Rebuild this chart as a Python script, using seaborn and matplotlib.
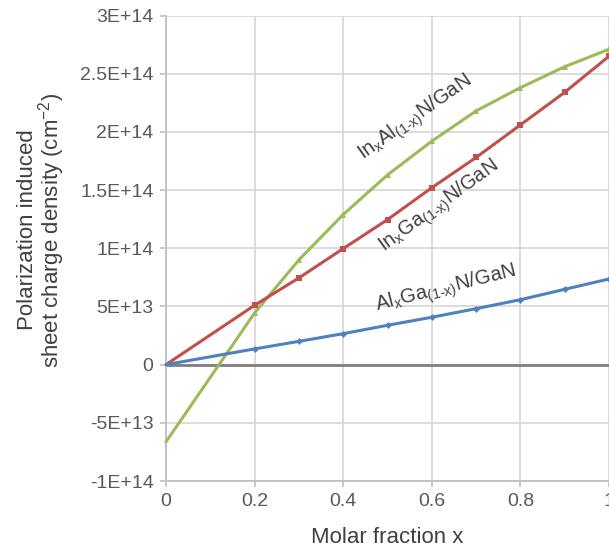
import numpy as np
import pandas as pd
import matplotlib
matplotlib.use("Agg")
import matplotlib.pyplot as plt
import seaborn as sns
from matplotlib.ticker import FixedLocator, FixedFormatter

# ---- data ----
x_frac = [0.0, 0.2, 0.3, 0.4, 0.5, 0.6, 0.7, 0.8, 0.9, 1.0]
inaln = [-6.63e13, 4.44e13, 9.0e13, 1.29e14, 1.63e14, 1.92e14, 2.18e14, 2.38e14, 2.56e14, 2.71e14]
ingan = [0.0, 5.1e13, 7.45e13, 9.97e13, 1.246e14, 1.52e14, 1.78e14, 2.06e14, 2.34e14, 2.65e14]
algan = [0.0, 1.35e13, 2.0e13, 2.66e13, 3.38e13, 4.07e13, 4.81e13, 5.58e13, 6.47e13, 7.36e13]

series_names = [r"In$_\mathregular{x}$Al$_\mathregular{(1\text{-}x)}$N/GaN",
                r"In$_\mathregular{x}$Ga$_\mathregular{(1\text{-}x)}$N/GaN",
                r"Al$_\mathregular{x}$Ga$_\mathregular{(1\text{-}x)}$N/GaN"]

y_ticks = [-1e14, -5e13, 0, 5e13, 1e14, 1.5e14, 2e14, 2.5e14, 3e14]
y_tick_labels = ["-1E+14", "-5E+13", "0", "5E+13", "1E+14", "1.5E+14", "2E+14", "2.5E+14", "3E+14"]
x_ticks = [0, 0.2, 0.4, 0.6, 0.8, 1.0]
x_tick_labels = ["0", "0.2", "0.4", "0.6", "0.8", "1"]

sns.set_theme(style="white")
plt.rcParams['font.family'] = ['Liberation Sans', 'DejaVu Sans']
plt.rcParams['mathtext.fontset'] = 'custom'
plt.rcParams['mathtext.rm'] = 'Liberation Sans'
plt.rcParams['mathtext.it'] = 'Liberation Sans:italic'

fig = plt.figure(figsize=(6.09, 5.47), dpi=100)
ax = fig.add_axes([166/609, 1-481/547, 1-166/609, (481-15.5)/547])

grid_c = "#D9D9D9"
ax.set_xlim(0, 1)
ax.set_ylim(-1e14, 3e14)
ax.xaxis.set_major_locator(FixedLocator(x_ticks))
ax.xaxis.set_major_formatter(FixedFormatter(x_tick_labels))
ax.yaxis.set_major_locator(FixedLocator(y_ticks))
ax.yaxis.set_major_formatter(FixedFormatter(y_tick_labels))
ax.grid(True, color=grid_c, lw=1.3)
ax.set_axisbelow(True)
for s in ["top", "right"]:
    ax.spines[s].set_visible(False)
for s in ["left", "bottom"]:
    ax.spines[s].set_color("#BFBFBF")
    ax.spines[s].set_linewidth(1.3)
ax.tick_params(axis="both", colors="#BFBFBF", labelcolor="#595959", labelsize=14,
               length=4, width=1.2, direction="out", left=True, bottom=True)
ax.tick_params(axis="x", pad=5)
ax.tick_params(axis="y", pad=5)

ax.axhline(0, color="#7F7F7F", lw=2, zorder=1.5)

df = pd.DataFrame({"x": x_frac, "InAlN": inaln, "InGaN": ingan, "AlGaN": algan})
styles = [("InAlN", "#9BBB59", "^", 5), ("InGaN", "#C0504D", "s", 5), ("AlGaN", "#4F81BD", "D", 3.5)]
for col, c, m, ms in styles:
    sns.lineplot(data=df, x="x", y=col, color=c, lw=2.2, marker=m, markersize=ms,
                 markeredgewidth=0, markevery=slice(1, None), ax=ax, zorder=3, clip_on=False)

ax.set_xlabel("Molar fraction x", fontsize=16, color="#404040", labelpad=12)
ax.set_ylabel("")
fig.text(42/609, 1-230/547, "Polarization induced\nsheet charge density (cm$^{-2}$)",
         rotation=90, ha="center", va="center", fontsize=16, color="#404040",
         multialignment="center", linespacing=0.95)

lab_kw = dict(ha="center", va="center", fontsize=14.5, color="#404040",
              rotation_mode="anchor")
ax.text(0.564, 2.116e14, series_names[0], rotation=35, **lab_kw)
ax.text(0.616, 1.36e14, series_names[1], rotation=36, **lab_kw)
ax.text(0.631, 6.48e13, series_names[2], rotation=14, **lab_kw)

fig.savefig("out.png", dpi=100)
